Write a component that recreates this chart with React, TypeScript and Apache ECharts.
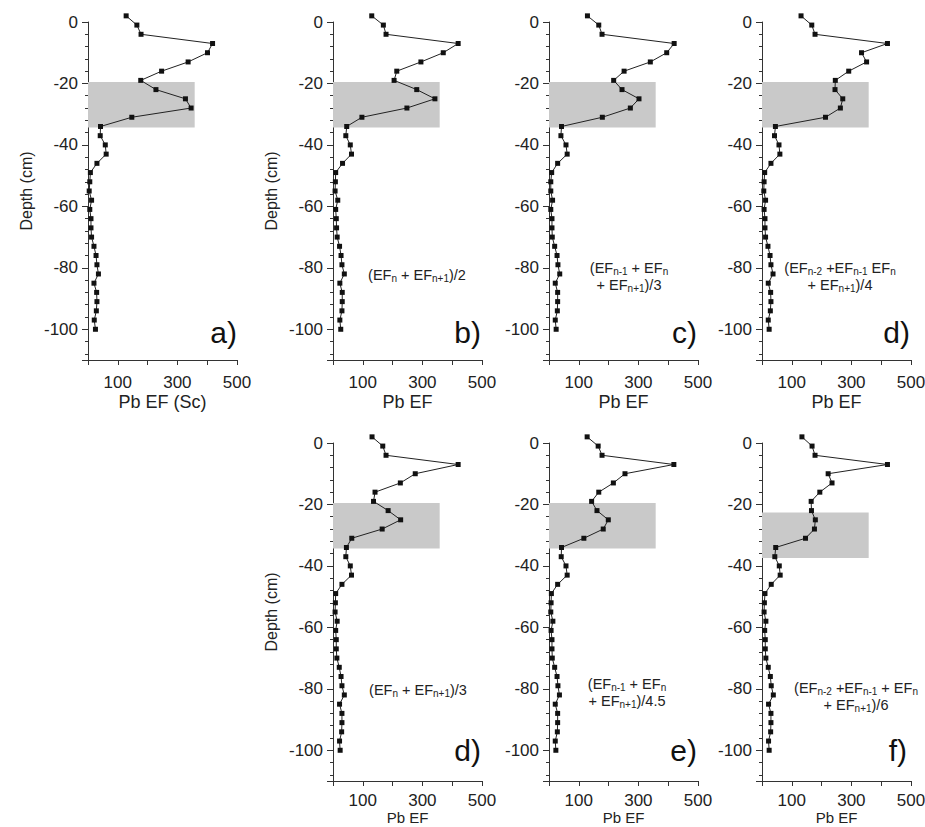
import React, { useEffect, useRef } from 'react';
import * as echarts from 'echarts';

// Depth (cm) of each sample
const depths = [2, -1, -4, -7, -10, -13, -16, -19, -22, -25, -28, -31, -34, -37, -40, -43, -46, -49, -52, -55, -58, -61, -64, -67, -70, -73, -76, -79, -82, -85, -88, -91, -94, -97, -100];

// Pb EF values per panel
const efA = [128, 164, 178, 418, 401, 336, 247, 177, 228, 327, 346, 147, 42, 41, 58, 61, 30, 8, 6, 4, 12, 6, 10, 10, 12, 20, 27, 30, 35, 20, 29, 30, 28, 21, 25];
const efB = [130, 169, 178, 420, 370, 295, 214, 205, 281, 342, 248, 97, 46, 43, 58, 62, 32, 9, 8, 7, 16, 9, 11, 12, 14, 22, 27, 30, 38, 23, 31, 31, 30, 23, 26];
const efC = [129, 167, 178, 420, 395, 340, 252, 217, 245, 302, 273, 179, 42, 40, 57, 61, 29, 9, 6, 6, 12, 6, 10, 10, 11, 19, 27, 30, 36, 21, 29, 29, 28, 21, 24];
const efD = [131, 167, 178, 421, 334, 351, 291, 246, 245, 271, 263, 213, 45, 42, 57, 60, 30, 9, 7, 6, 12, 7, 10, 10, 12, 20, 27, 30, 37, 21, 29, 30, 28, 21, 24];
const efD2 = [131, 167, 178, 420, 276, 226, 141, 136, 185, 227, 165, 63, 45, 43, 58, 62, 30, 9, 8, 7, 14, 9, 11, 11, 13, 21, 27, 30, 38, 22, 30, 30, 29, 22, 24];
const efE = [128, 165, 178, 419, 255, 216, 167, 143, 161, 199, 182, 117, 42, 41, 57, 61, 29, 8, 7, 6, 13, 7, 10, 10, 11, 19, 27, 30, 35, 21, 29, 29, 28, 21, 23];
const efF = [134, 168, 178, 421, 222, 235, 194, 165, 166, 179, 176, 146, 46, 43, 58, 61, 31, 10, 8, 7, 13, 9, 11, 11, 13, 21, 28, 31, 38, 22, 30, 30, 29, 22, 24];

// Shaded zone per panel (depth range) and its EF extent
const shadeTop = [-19.5, -19.5, -19.5, -19.5, -19.5, -19.5, -22.6];
const shadeBottom = [-34.3, -34.3, -34.3, -34.3, -34.3, -34.3, -37.4];
const shadeRight = 358;

// Tick labels
const xTickLabels = [100, 300, 500];
const yTickLabels = [0, -20, -40, -60, -80, -100];

const panelLetters = ['a)', 'b)', 'c)', 'd)', 'd)', 'e)', 'f)'];
const xNames = ['Pb EF (Sc)', 'Pb EF', 'Pb EF', 'Pb EF', 'Pb EF', 'Pb EF', 'Pb EF'];
const yNames = ['Depth (cm)', 'Depth (cm)', '', '', 'Depth (cm)', '', ''];
const formulas = [
  '',
  '(EF{s|n} + EF{s|n+1})/2',
  '(EF{s|n-1} + EF{s|n}\n+ EF{s|n+1})/3',
  '(EF{s|n-2} +EF{s|n-1} EF{s|n}\n+ EF{s|n+1})/4',
  '(EF{s|n} + EF{s|n+1})/3',
  '(EF{s|n-1} + EF{s|n}\n+ EF{s|n+1})/4.5',
  '(EF{s|n-2} +EF{s|n-1} + EF{s|n}\n+ EF{s|n+1})/6',
];

const FONT = '"Liberation Sans", Arial, Helvetica, sans-serif';

export default function App() {
  const ref = useRef<HTMLDivElement>(null);

  useEffect(() => {
    if (!ref.current) return;
    const chart = echarts.init(ref.current, undefined, { renderer: 'svg' });

    const series = [efA, efB, efC, efD, efD2, efE, efF];
    const lefts = [88, 333, 549, 762, 333, 549, 762];
    const tops = [22, 22, 22, 22, 443, 443, 443];
    const W = 149;
    const H = 338;

    const grids = lefts.map((l, i) => ({
      left: l,
      top: tops[i],
      width: W,
      height: H,
      containLabel: false,
      outerBoundsMode: 'none',
    }));

    const xAxes = lefts.map((_, i) => ({
      gridIndex: i,
      type: 'value',
      min: 0,
      max: 500,
      interval: 100,
      axisLine: { show: true, onZero: false, lineStyle: { color: '#333', width: 1 } },
      axisTick: { show: true, inside: false, length: 5, lineStyle: { color: '#333', width: 1 } },
      axisLabel: {
        margin: i >= 4 ? 11 : 14,
        fontSize: 17,
        color: '#222',
        fontFamily: FONT,
        formatter: (v: number) => (xTickLabels.includes(v) ? String(v) : ''),
      },
      splitLine: { show: false },
      name: xNames[i],
      nameLocation: 'middle',
      nameGap: i >= 4 ? 26 : 33,
      nameTextStyle: { fontSize: i >= 4 ? 15 : 18, color: '#222', fontFamily: FONT },
    }));

    const yAxes = lefts.map((_, i) => ({
      gridIndex: i,
      type: 'value',
      min: -110,
      max: 0,
      minInterval: 20,
      maxInterval: 20,
      axisLine: { show: true, onZero: false, lineStyle: { color: '#333', width: 1 } },
      axisTick: { show: true, inside: false, length: 6, lineStyle: { color: '#333', width: 1 } },
      minorTick: { show: true, splitNumber: 5, length: 3, lineStyle: { color: '#333', width: 1 } },
      axisLabel: {
        margin: 10,
        fontSize: 17,
        color: '#222',
        fontFamily: FONT,
        formatter: (v: number) => (yTickLabels.includes(v) ? String(v) : ''),
      },
      splitLine: { show: false },
      minorSplitLine: { show: false },
      name: yNames[i],
      nameLocation: 'middle',
      nameGap: 54,
      nameTextStyle: { fontSize: 16, color: '#222', fontFamily: FONT },
    }));

    const seriesOpts = series.map((ef, i) => ({
      type: 'line',
      xAxisIndex: i,
      yAxisIndex: i,
      data: ef.map((v, k) => [v, depths[k]]),
      clip: false,
      symbol: 'rect',
      symbolSize: 5,
      showSymbol: true,
      itemStyle: { color: '#111' },
      lineStyle: { color: '#222', width: 1 },
      emphasis: { disabled: true },
      markArea: {
        silent: true,
        itemStyle: { color: '#c9c9c9', opacity: 1 },
        data: [[{ coord: [0, shadeTop[i]] }, { coord: [shadeRight, shadeBottom[i]] }]],
      },
      z: 3,
    }));

    const letterPos = [
      [237, 332], [481, 332], [697, 332], [910, 332],
      [481, 750], [697, 750], [907, 750],
    ];
    const formulaPos = [
      [0, 0], [417, 275], [629, 276], [840, 276],
      [418, 690], [627, 692], [856, 696],
    ];

    const graphics: any[] = [];
    panelLetters.forEach((t, i) => {
      graphics.push({
        type: 'text',
        x: letterPos[i][0],
        y: letterPos[i][1],
        z: 10,
        style: {
          text: t,
          fontSize: 30,
          fontFamily: FONT,
          fill: '#111',
          align: 'right',
          textAlign: 'right',
          verticalAlign: 'middle',
          textVerticalAlign: 'middle',
        },
      });
    });
    formulas.forEach((t, i) => {
      if (!t) return;
      graphics.push({
        type: 'text',
        x: formulaPos[i][0],
        y: formulaPos[i][1],
        z: 10,
        style: {
          text: t,
          fontSize: 14.5,
          lineHeight: 17,
          fontFamily: FONT,
          fill: '#222',
          align: 'center',
          textAlign: 'center',
          verticalAlign: 'middle',
          textVerticalAlign: 'middle',
          rich: {
            s: {
              fontSize: 10,
              lineHeight: 10,
              verticalAlign: 'bottom',
              fontFamily: FONT,
              fill: '#222',
            },
          },
        },
      });
    });

    chart.setOption({
      animation: false,
      backgroundColor: '#fff',
      textStyle: { fontFamily: FONT },
      grid: grids,
      xAxis: xAxes,
      yAxis: yAxes,
      series: seriesOpts,
      graphic: { elements: graphics },
    } as any);

    return () => {
      chart.dispose();
    };
  }, []);

  return (
    <div
      ref={ref}
      style={{ position: 'absolute', left: 0, top: 0, width: 925, height: 827, background: '#fff' }}
    />
  );
}
